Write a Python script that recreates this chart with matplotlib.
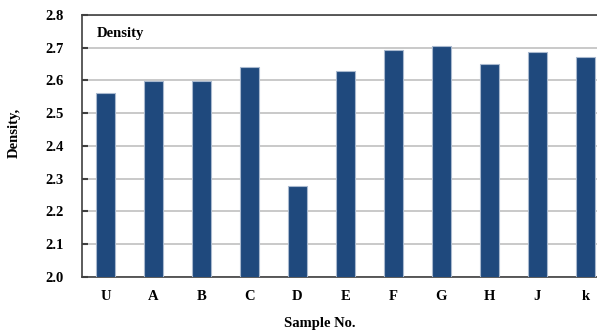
import numpy as np
import matplotlib
matplotlib.use('Agg')
import matplotlib.pyplot as plt

samples = ['U', 'A', 'B', 'C', 'D', 'E', 'F', 'G', 'H', 'J', 'k']
density = [2.562, 2.599, 2.597, 2.642, 2.279, 2.629, 2.694, 2.706, 2.649, 2.686, 2.671]
yticks = [2.0, 2.1, 2.2, 2.3, 2.4, 2.5, 2.6, 2.7, 2.8]

plt.rcParams['font.family'] = ['Liberation Serif', 'DejaVu Serif']
plt.rcParams['font.weight'] = 'bold'
fs = 10.5

fig = plt.figure(figsize=(5.97, 3.30), dpi=100)
# axes runs past the right edge of the picture, as in the original
ax = fig.add_axes([81.5/597, 1-277/330, (609.5-81.5)/597, (277-15)/330])

x = np.arange(len(samples))
ax.bar(x, density, width=0.4, color='#1F497D', edgecolor='#A9B9CF', linewidth=0.8, zorder=3)

ax.set_ylim(2.0, 2.8)
ax.set_xlim(-0.5, len(samples)-0.5)
ax.set_yticks(yticks)
ax.set_yticklabels(['%.1f' % v for v in yticks], fontsize=fs, fontweight='bold')
ax.set_xticks(x)
ax.set_xticklabels(samples, fontsize=fs, fontweight='bold')
ax.tick_params(axis='x', length=0, pad=9)
ax.tick_params(axis='y', direction='in', length=4, width=1.5, color='#404040', pad=13)

ax.yaxis.grid(True, color='#c0c0c0', linewidth=1.2, zorder=0)
ax.set_axisbelow(True)
for s in ['left', 'bottom', 'top']:
    ax.spines[s].set_color('#404040')
    ax.spines[s].set_linewidth(1.2)
ax.spines['right'].set_visible(False)

fig.text(97/597, 1-34/330, 'Density', fontsize=fs, fontweight='bold', va='center')
fig.text(14/597, 1-133/330, 'Density,', rotation=90, fontsize=fs, fontweight='bold',
         ha='center', va='center')
fig.text(320/597, 1-324/330, 'Sample No.', fontsize=fs, fontweight='bold',
         ha='center', va='center')

fig.savefig('out.png', dpi=100)
